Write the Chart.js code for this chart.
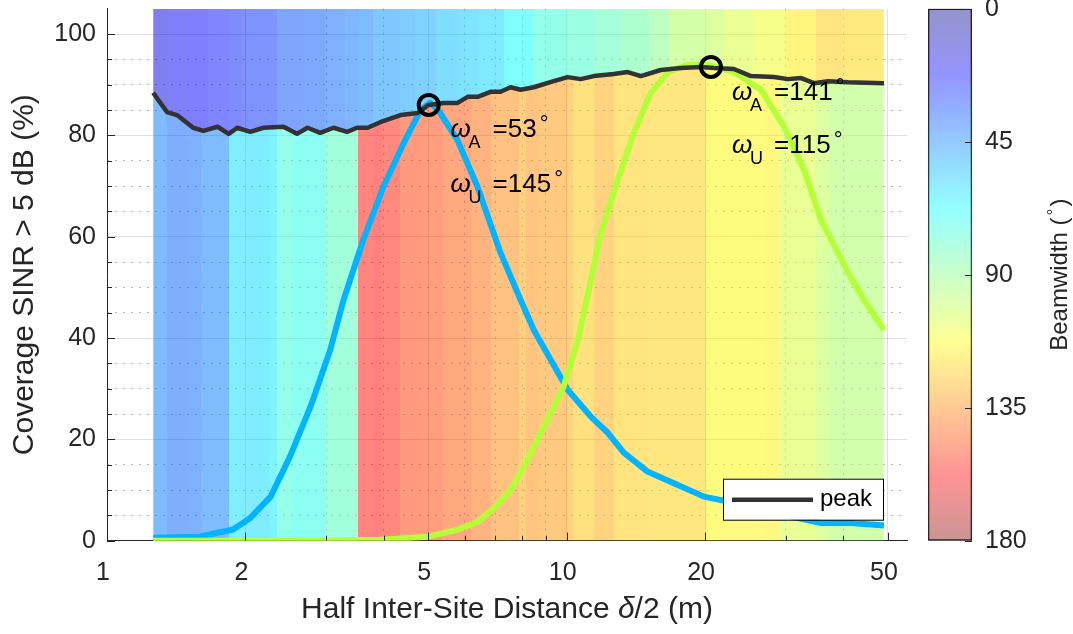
<!DOCTYPE html>
<html>
<head>
<meta charset="utf-8">
<script src="https://cdn.jsdelivr.net/npm/chart.js@4.4.1/dist/chart.umd.min.js"></script>
<style>
  html, body { margin: 0; padding: 0; background: #fff; }
  #wrap { position: relative; width: 1073px; height: 634px; }
  #c1 { position: absolute; left: 0; top: 0; }
  #c2 { position: absolute; left: 915px; top: 0; }
</style>
</head>
<body>
<div id="wrap">
  <canvas id="c1" width="915" height="634"></canvas>
  <canvas id="c2" width="158" height="634"></canvas>
</div>
<script>
// peak coverage (black)
const peakX = [1.26,1.35,1.42,1.54,1.62,1.74,1.84,1.92,2.05,2.19,2.42,2.59,2.73,2.91,3.11,3.33,3.50,3.69,3.93,4.35,
               4.74,5.00,5.40,5.79,6.09,6.40,6.83,7.18,7.55,7.94,8.48,9.37,10.05,10.73,11.45,12.66,13.58,14.50,16.02,17.72,
               19.58,20.91,23.11,25.17,28.25,30.30,32.35,34.52,37.03,40.95,49.0];
const peakY = [88.4,84.6,84.0,81.5,80.9,81.7,80.3,81.5,80.7,81.5,81.7,80.3,81.5,80.5,81.5,80.7,81.5,81.5,82.6,84.0,
               84.4,86.0,86.4,86.4,87.6,87.6,88.6,88.6,89.5,89.0,89.5,90.7,91.5,91.1,91.7,92.1,92.5,91.7,92.9,93.3,
               93.5,93.3,93.1,91.7,91.5,91.1,91.3,90.3,90.7,90.5,90.3];

// blue curve (wA=53, wU=145)
const blueX = [1.26,1.59,1.88,2.05,2.27,2.50,2.77,3.06,3.27,3.61,3.99,4.42,4.81,5.05,5.26,5.79,6.40,7.18,7.94,8.48,
               9.23,10.05,11.28,12.29,13.31,15.02,17.45,19.89,23.11,28.25,35.76,41.56,49.0];
const blueY = [0.6,0.8,2.2,4.5,8.7,16.6,26.4,37.7,47.5,59.4,69.8,78.5,85.0,86.4,85.0,79.0,69.8,56.8,47.5,41.6,
               35.7,29.8,24.5,21.3,17.4,13.6,11.0,8.7,7.5,5.5,3.5,3.5,3.0];

// green curve (wA=141, wU=115)
const greenX = [1.26,2.63,3.93,5.00,5.79,6.40,7.00,7.55,7.94,8.78,9.85,10.57,11.05,11.86,12.92,14.00,15.24,16.60,18.34,20.29,
                23.11,26.47,29.70,32.83,35.76,40.95,44.36,49.0];
const greenY = [0,0,0.2,0.8,2.2,3.7,6.7,10.0,13.4,21.3,30.4,39.6,47.5,60.7,71.2,80.5,88.4,92.5,93.9,93.9,
                92.5,89.0,81.7,73.2,63.3,52.9,47.5,41.6];

// optimum markers
const optX = [5.01, 20.6];
const optY = [86.0, 93.5];

// beamwidth bands below the peak line
const lowerEdges = [1.26,1.351,1.501,1.602,1.844,1.999,2.265,2.346,2.530,2.985,3.523,3.798,3.973,4.348,4.857,5.369,
                    6.177,6.831,7.860,8.142,8.690,10.05,10.31,11.45,12.66,15.09,20.09,27.14,28.96,34.87,37.23,49.0];
const lowerBeam = [44,39,40,44,62,61,64,75,72,80,155,157,154,148,147,143,139,134,128,133,131,128,123,128,122,121,114,115,105,101,97];

// beamwidth bands above the peak line
const upperEdges = [1.26,1.351,1.501,1.660,1.844,1.968,2.112,2.346,2.687,2.985,3.300,3.540,3.798,4.348,4.688,5.184,
                    5.788,6.400,7.292,8.434,10.05,11.45,13.11,15.09,16.68,20.09,21.98,25.43,30.00,34.87,39.95,49.0];
const upperBeam = [17,20,22,25,27,29,30,36,37,40,42,44,48,50,52,56,58,60,67,75,77,81,84,89,98,100,105,109,116,122,120];

// ticks
const xTicks = [1, 2, 5, 10, 20, 50];
const xMinor = [3, 4, 6, 7, 8, 9, 30, 40];
const yTicks = [0, 20, 40, 60, 80, 100];
const yMinor = [5,10,15,25,30,35,45,50,55,65,70,75,85,90,95];
const cbTicks = [0, 45, 90, 135, 180];

// annotations
const noteX = [5.59, 5.59, 22.9, 22.9];
const noteY = [79.7, 68.8, 87.0, 76.5];
const noteSub = ['A', 'U', 'A', 'U'];
const noteVal = ['53', '145', '141', '115'];

const FONT = '"Liberation Sans", Arial, Helvetica, sans-serif';
const INK = '#262626';
Chart.defaults.font.family = FONT;
Chart.defaults.color = INK;

function jet(v, a) {
  const cl = t => Math.max(0, Math.min(1, t));
  const r = cl(Math.min(4 * v - 1.5, -4 * v + 4.5));
  const g = cl(Math.min(4 * v - 0.5, -4 * v + 3.5));
  const b = cl(Math.min(4 * v + 0.5, -4 * v + 2.5));
  return 'rgba(' + Math.round(r * 255) + ',' + Math.round(g * 255) + ',' + Math.round(b * 255) + ',' + a + ')';
}

// horizontal gradient with hard stops, one stop pair per band
function bandGradient(chart, edges, beams) {
  const area = chart.chartArea;
  if (!area) return 'rgba(0,0,0,0)';
  const xs = chart.scales.x;
  const w = area.right - area.left;
  const pos = v => Math.min(1, Math.max(0, (xs.getPixelForValue(v) - area.left) / w));
  const g = chart.ctx.createLinearGradient(area.left, 0, area.right, 0);
  beams.forEach((b, i) => {
    const c = jet(b / 180, 0.5);
    g.addColorStop(pos(edges[i]), c);
    g.addColorStop(pos(edges[i + 1]), c);
  });
  return g;
}

const pts = (xs, ys) => xs.map((x, i) => ({ x: x, y: ys[i] }));

const decor = {
  id: 'decor',
  afterDatasetsDraw(chart) {
    const { ctx, chartArea: a, scales: { x, y } } = chart;
    ctx.save();
    ctx.strokeStyle = INK;
    ctx.lineWidth = 1;
    ctx.beginPath();
    xTicks.concat(xMinor).forEach(v => {
      const p = Math.round(x.getPixelForValue(v)) + 0.5;
      const len = xTicks.includes(v) ? 8 : 5;
      ctx.moveTo(p, a.bottom); ctx.lineTo(p, a.bottom - len);
    });
    yTicks.concat(yMinor).forEach(v => {
      const p = Math.round(y.getPixelForValue(v)) + 0.5;
      const len = yTicks.includes(v) ? 8 : 5;
      ctx.moveTo(a.left, p); ctx.lineTo(a.left + len, p);
    });
    ctx.stroke();
    ctx.restore();
  },
  afterDraw(chart) {
    const { ctx, chartArea: a, scales: { x, y } } = chart;
    ctx.save();
    ctx.fillStyle = '#000';
    ctx.textBaseline = 'alphabetic';
    ctx.textAlign = 'left';
    noteX.forEach((nx, i) => {
      const px = x.getPixelForValue(nx);
      const py = y.getPixelForValue(noteY[i]);
      ctx.font = 'italic 26px ' + FONT;
      ctx.fillText('ω', px, py);
      ctx.font = '18px ' + FONT;
      ctx.fillText(noteSub[i], px + 18, py + 11);
      ctx.font = '26px ' + FONT;
      const t = '=' + noteVal[i];
      ctx.fillText(t, px + 42, py);
      const w = ctx.measureText(t).width;
      ctx.font = '22px ' + FONT;
      ctx.fillText('°', px + 45 + w, py - 6);
    });
    // x axis title with italic delta
    ctx.fillStyle = INK;
    const parts = [['Half Inter-Site Distance ', ''], ['δ', 'italic '], ['/2 (m)', '']];
    let total = 0;
    parts.forEach(p => { ctx.font = p[1] + '30px ' + FONT; total += ctx.measureText(p[0]).width; });
    let sx = (a.left + a.right) / 2 - total / 2;
    parts.forEach(p => {
      ctx.font = p[1] + '30px ' + FONT;
      ctx.fillText(p[0], sx, 618);
      sx += ctx.measureText(p[0]).width;
    });
    // legend
    const bw = 160, bh = 41;
    const bx = a.right - 24 - bw, by = a.bottom - 21 - bh;
    ctx.fillStyle = '#fff';
    ctx.fillRect(bx, by, bw, bh);
    ctx.strokeStyle = '#000';
    ctx.lineWidth = 1;
    ctx.strokeRect(bx + 0.5, by + 0.5, bw, bh);
    ctx.strokeStyle = '#333';
    ctx.lineWidth = 4.5;
    ctx.beginPath();
    ctx.moveTo(bx + 9, by + 21); ctx.lineTo(bx + 90, by + 21);
    ctx.stroke();
    ctx.fillStyle = '#000';
    ctx.font = '24px ' + FONT;
    ctx.textBaseline = 'middle';
    ctx.fillText('peak', bx + 97, by + 21);
    ctx.restore();
  }
};

new Chart(document.getElementById('c1'), {
  type: 'line',
  data: {
    datasets: [
      { label: 'peak', data: pts(peakX, peakY), borderColor: '#333333', borderWidth: 4.5, pointRadius: 0,
        fill: 'origin', backgroundColor: c => bandGradient(c.chart, lowerEdges, lowerBeam) },
      { label: 'top', data: pts([upperEdges[0], upperEdges[upperEdges.length - 1]], [105, 105]),
        borderColor: 'rgba(0,0,0,0)', borderWidth: 0, pointRadius: 0,
        fill: '-1', backgroundColor: c => bandGradient(c.chart, upperEdges, upperBeam) },
      { label: 'green', data: pts(greenX, greenY), borderColor: '#b4ff37', borderWidth: 6, pointRadius: 0, fill: false },
      { label: 'blue', data: pts(blueX, blueY), borderColor: '#00b4ff', borderWidth: 6, pointRadius: 0, fill: false },
      { label: 'opt', data: pts(optX, optY), showLine: false, fill: false, order: -1,
        pointRadius: 10, pointBorderWidth: 4, pointBorderColor: '#000', pointBackgroundColor: 'rgba(0,0,0,0)' }
    ]
  },
  options: {
    responsive: false,
    animation: false,
    elements: { line: { tension: 0, borderJoinStyle: 'round', borderCapStyle: 'butt' } },
    layout: { autoPadding: false, padding: { left: 0, right: 8, top: 8.7, bottom: 0 } },
    plugins: {
      legend: { display: false },
      tooltip: { enabled: false },
      filler: { drawTime: 'beforeDatasetsDraw' }
    },
    scales: {
      x: {
        type: 'logarithmic', min: 1, max: 55,
        afterBuildTicks: s => { s.ticks = xTicks.map(v => ({ value: v })); },
        afterFit: s => { s.height = 93.3; s.paddingLeft = 0; s.paddingRight = 0; },
        grid: { color: 'rgba(38,38,38,0.15)', lineWidth: 1, drawTicks: false },
        border: { color: INK, width: 1 },
        ticks: { callback: v => String(v), font: { size: 25 }, color: INK, padding: 17, maxRotation: 0,
                 autoSkip: false, labelOffset: -4 }
      },
      xm: {
        type: 'logarithmic', min: 1, max: 55, position: 'bottom',
        afterBuildTicks: s => { s.ticks = xMinor.map(v => ({ value: v })); },
        afterFit: s => { s.height = 0; s.paddingLeft = 0; s.paddingRight = 0; },
        ticks: { display: false },
        grid: { color: 'rgba(38,38,38,0.35)', lineWidth: 1, drawTicks: false },
        border: { display: false, dash: [2, 6] }
      },
      y: {
        type: 'linear', min: 0, max: 105,
        afterBuildTicks: s => { s.ticks = yTicks.map(v => ({ value: v })); },
        afterFit: s => { s.width = 107; s.paddingTop = 0; s.paddingBottom = 0; },
        grid: { color: 'rgba(38,38,38,0.15)', lineWidth: 1, drawTicks: false },
        border: { color: INK, width: 1 },
        ticks: { font: { size: 25 }, color: INK, padding: 11 },
        title: { display: true, text: 'Coverage SINR > 5 dB (%)', font: { size: 30 }, color: INK,
                 padding: { top: 7, bottom: 0 } }
      },
      ym: {
        type: 'linear', min: 0, max: 105, position: 'left',
        afterBuildTicks: s => { s.ticks = yMinor.map(v => ({ value: v })); },
        afterFit: s => { s.width = 0; s.paddingTop = 0; s.paddingBottom = 0; },
        ticks: { display: false },
        grid: { color: 'rgba(38,38,38,0.35)', lineWidth: 1, drawTicks: false },
        border: { display: false, dash: [2, 6] }
      }
    }
  },
  plugins: [decor]
});

// colorbar
function cbGradient(chart) {
  const area = chart.chartArea;
  if (!area) return 'rgba(0,0,0,0)';
  const g = chart.ctx.createLinearGradient(0, area.top, 0, area.bottom);
  for (let i = 0; i <= 32; i++) g.addColorStop(i / 32, jet(i / 32, 0.42));
  return g;
}

const cbDecor = {
  id: 'cbDecor',
  afterDraw(chart) {
    const { ctx, chartArea: a, scales: { y } } = chart;
    ctx.save();
    ctx.strokeStyle = INK;
    ctx.lineWidth = 1;
    ctx.beginPath();
    cbTicks.forEach(v => {
      const p = Math.round(y.getPixelForValue(v)) + 0.5;
      ctx.moveTo(a.right, p); ctx.lineTo(a.right - 7, p);
    });
    ctx.stroke();
    // axis label, read bottom to top, degree sign raised
    ctx.translate(143, (a.top + a.bottom) / 2);
    ctx.rotate(-Math.PI / 2);
    ctx.fillStyle = INK;
    ctx.textAlign = 'left';
    ctx.textBaseline = 'alphabetic';
    ctx.font = '24px ' + FONT;
    const t1 = 'Beamwidth (', t2 = ')';
    const w1 = ctx.measureText(t1).width, w2 = ctx.measureText(t2).width;
    ctx.font = '17px ' + FONT;
    const wd = ctx.measureText('°').width + 4;
    let sx = -(w1 + wd + w2) / 2;
    ctx.font = '24px ' + FONT;
    ctx.fillText(t1, sx, 9);
    ctx.font = '17px ' + FONT;
    ctx.fillText('°', sx + w1 + 2, 1);
    ctx.font = '24px ' + FONT;
    ctx.fillText(t2, sx + w1 + wd, 9);
    ctx.restore();
  }
};

new Chart(document.getElementById('c2'), {
  type: 'bar',
  data: {
    labels: ['Beamwidth'],
    datasets: [{ data: [[0, 180]], backgroundColor: c => cbGradient(c.chart), borderColor: INK, borderWidth: 1,
                 borderSkipped: false, barPercentage: 1, categoryPercentage: 1 }]
  },
  options: {
    responsive: false,
    animation: false,
    layout: { autoPadding: false, padding: { left: 13, right: 0, top: 8.7, bottom: 93.3 } },
    plugins: { legend: { display: false }, tooltip: { enabled: false } },
    scales: {
      x: { display: false },
      y: {
        position: 'right', reverse: true, min: 0, max: 180,
        afterBuildTicks: s => { s.ticks = cbTicks.map(v => ({ value: v })); },
        afterFit: s => { s.width = 101; s.paddingTop = 0; s.paddingBottom = 0; },
        grid: { display: false, drawTicks: false },
        border: { display: false },
        ticks: { font: { size: 25 }, color: INK, padding: 13 }
      }
    }
  },
  plugins: [cbDecor]
});
</script>
</body>
</html>
